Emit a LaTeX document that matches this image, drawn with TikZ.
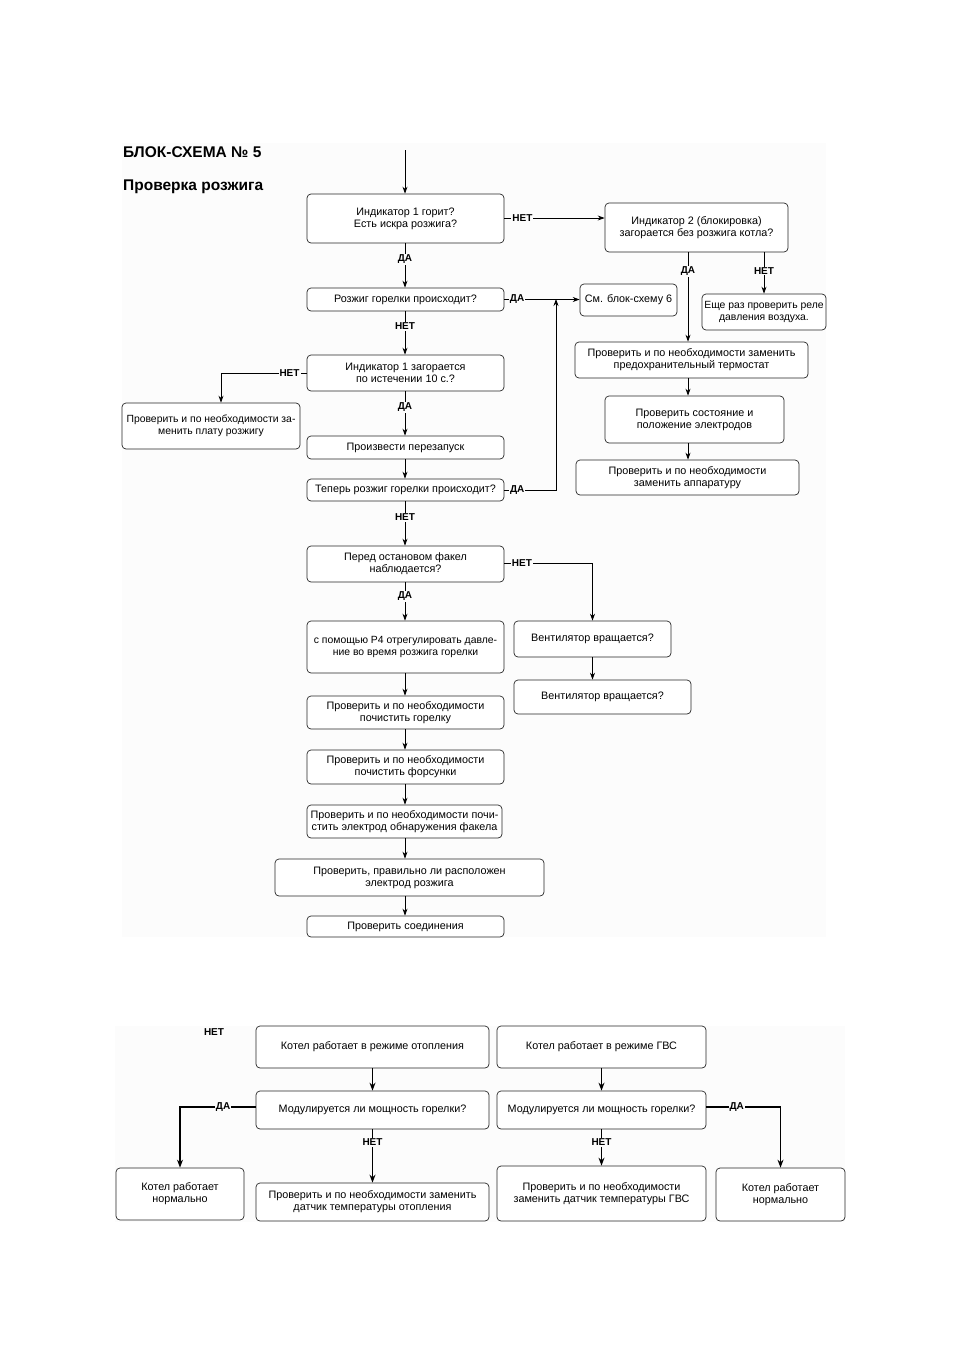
\documentclass[tikz,border=0pt]{standalone}
\usepackage{fontspec}
\setmainfont{Liberation Sans}
\usetikzlibrary{arrows.meta,calc}
\definecolor{bgc}{gray}{0.99}
\tikzset{
  box/.style={draw=black!85, rounded corners=4pt, fill=white, align=center, inner sep=1pt,
    font=\fontsize{10.8}{12}\selectfont, line width=0.7pt},
  small/.style={font=\fontsize{10.4}{12}\selectfont},
  arr/.style={-{Stealth[length=7pt,width=5pt]}, line width=0.8pt},
  tarr/.style={-{Stealth[length=8pt,width=6pt]}, line width=1.5pt},
  lbl/.style={fill=bgc, inner sep=1pt, font=\bfseries\fontsize{10}{10}\selectfont},
  ttl/.style={anchor=west, inner sep=0pt, font=\bfseries\fontsize{15.5}{17}\selectfont}
}
\newcommand{\bx}[7][]{\node[box,#1,minimum width={(#5-#3)*1pt},minimum height={(#6-#4)*1pt}] (#2) at ({(#3+#5)/2},{(#4+#6)/2}) {#7};}
\begin{document}
\begin{tikzpicture}[x=1pt,y=-1pt]
\useasboundingbox (0,0) rectangle (954,1350);
\fill[white] (0,0) rectangle (954,1350);
\fill[bgc] (122,143) rectangle (826,937);
\fill[bgc] (115,1026) rectangle (845,1222);

\node[ttl] (t1) at (123,152) {БЛОК-СХЕМА № 5};
\node[ttl] (t2) at (123,187) {Проверка розжига};

% main column
\bx{b1}{307}{194}{504}{243}{Индикатор 1 горит?\\Есть искра розжига?}
\bx{rz}{307}{288}{504}{311}{Розжиг горелки происходит?}
\bx{iz}{307}{355}{504}{391}{Индикатор 1 загорается\\по истечении 10 с.?}
\bx[small]{pl}{122}{403}{300}{449}{Проверить и по необходимости за-\\менить плату розжигу}
\bx{pp}{307}{436}{504}{459}{Произвести перезапуск}
\bx{tp}{307}{479}{504}{501}{Теперь розжиг горелки происходит?}
\bx{pf}{307}{546}{504}{582}{Перед остановом факел\\наблюдается?}
\bx[small]{p4}{307}{621}{504}{673}{с помощью Р4 отрегулировать давле-\\ние во время розжига горелки}
\bx{gr}{307}{696}{504}{729}{Проверить и по необходимости\\почистить горелку}
\bx{fs}{307}{750}{504}{784}{Проверить и по необходимости\\почистить форсунки}
\bx{el}{307}{805}{502}{838}{Проверить и по необходимости почи-\\стить электрод обнаружения факела}
\bx{er}{275}{859}{544}{896}{Проверить, правильно ли расположен\\электрод розжига}
\bx{sd}{307}{916}{504}{937}{Проверить соединения}
\bx{v1}{514}{621}{671}{657}{Вентилятор вращается?}
\bx{v2}{514}{680}{691}{714}{Вентилятор вращается?}

% right column
\bx{b2}{605}{203}{788}{252}{Индикатор 2 (блокировка)\\загорается без розжига котла?}
\bx{sm}{580}{284}{677}{316}{См. блок-схему 6}
\bx[small]{rl}{702}{294}{826}{330}{Еще раз проверить реле\\давления воздуха.}
\bx{tt}{575}{342}{808}{378}{Проверить и по необходимости заменить\\предохранительный термостат}
\bx{ed}{605}{396}{784}{443}{Проверить состояние и\\положение электродов}
\bx{ap}{576}{460}{799}{495}{Проверить и по необходимости\\заменить аппаратуру}

\coordinate (st) at (405,150);
\coordinate (j) at (556,299);
\coordinate (cx) at (688,0);
\coordinate (cy) at (764,0);
\coordinate (plt) at ([xshift=10pt]pl.north);

\draw[arr] (st) -- (b1.north -| st);
\draw[arr] (b1.south -| st) -- node[lbl,pos=0.36]{ДА} (rz.north -| st);
\draw[arr] (rz.south -| st) -- node[lbl,pos=0.34]{НЕТ} (iz.north -| st);
\draw[arr] (iz.south -| st) -- node[lbl,pos=0.36]{ДА} (pp.north -| st);
\draw[arr] (pp.south -| st) -- (tp.north -| st);
\draw[arr] (tp.south -| st) -- node[lbl,pos=0.36]{НЕТ} (pf.north -| st);
\draw[arr] (pf.south -| st) -- node[lbl,pos=0.36]{ДА} (p4.north -| st);
\draw[arr] (p4.south -| st) -- (gr.north -| st);
\draw[arr] (gr.south -| st) -- (fs.north -| st);
\draw[arr] (fs.south -| st) -- (el.north -| st);
\draw[arr] (el.south -| st) -- (er.north -| st);
\draw[arr] (er.south -| st) -- (sd.north -| st);

\draw[arr] ([yshift=0.5pt]b1.east) -- node[lbl,pos=0.18]{НЕТ} ([yshift=0.5pt]b1.east -| b2.west);
\draw[arr] (rz.east) -- node[lbl,pos=0.17]{ДА} (rz.east -| sm.west);
\draw[arr] (tp.east) -- node[lbl,pos=0.25]{ДА} (tp.east -| j) -- (j);
\draw[arr] (iz.west) -- node[lbl,pos=0.2]{НЕТ} (iz.west -| plt) -- (plt);
\draw[arr] ([yshift=0.5pt]pf.east) -- node[lbl,pos=0.2]{НЕТ} ([yshift=0.5pt]pf.east -| v1.north) -- (v1.north);
\draw[arr] (v1.south) -- (v1.south |- v2.north);

\draw[arr] (b2.south -| cx) -- node[lbl,pos=0.21]{ДА} (tt.north -| cx);
\draw[arr] (b2.south -| cy) -- node[lbl,pos=0.45]{НЕТ} (rl.north -| cy);
\draw[arr] (tt.south -| cx) -- (ed.north -| cx);
\draw[arr] (ed.south -| cx) -- (ap.north -| cx);

% lower part
\node[lbl,fill=none] (nn) at (214,1032) {НЕТ};
\bx{k1}{256}{1026}{489}{1068}{Котел работает в режиме отопления}
\bx{k2}{497}{1026}{706}{1068}{Котел работает в режиме ГВС}
\bx{m1}{256}{1091}{489}{1129}{Модулируется ли мощность горелки?}
\bx{m2}{497}{1091}{706}{1129}{Модулируется ли мощность горелки?}
\bx{n1}{116}{1168}{244}{1220}{Котел работает\\нормально}
\bx{d1}{256}{1183}{489}{1221}{Проверить и по необходимости заменить\\датчик температуры отопления}
\bx{d2}{497}{1166}{706}{1221}{Проверить и по необходимости\\заменить датчик температуры ГВС}
\bx{n2}{716}{1168}{845}{1221}{Котел работает\\нормально}

\draw[tarr] (k1.south) -- (m1.north);
\draw[tarr] (k2.south) -- (m2.north);
\draw[tarr] (m1.south) -- node[lbl,pos=0.24]{НЕТ} (d1.north);
\draw[tarr] (m2.south) -- node[lbl,pos=0.35]{НЕТ} (d2.north);
\draw[tarr] ([yshift=3pt]m1.west) -- node[lbl,pos=0.43]{ДА} ([yshift=3pt]m1.west -| n1.north) -- (n1.north);
\draw[tarr] ([yshift=3pt]m2.east) -- node[lbl,pos=0.41]{ДА} ([yshift=3pt]m2.east -| n2.north) -- (n2.north);
\end{tikzpicture}
\end{document}
